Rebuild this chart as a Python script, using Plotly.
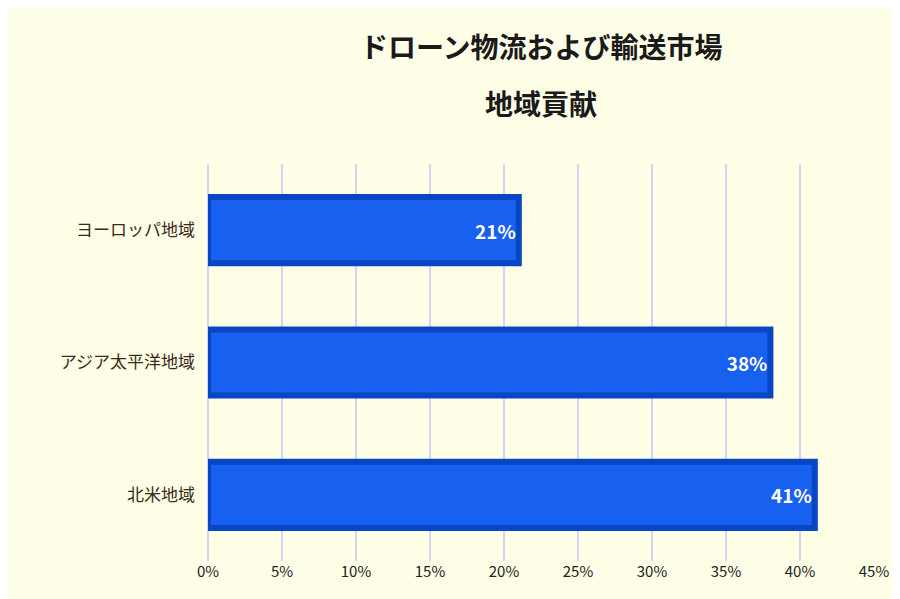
import plotly.graph_objects as go

categories = ["北米地域", "アジア太平洋地域", "ヨーロッパ地域"]
values = [41, 38, 21]
labels = ["<b>41%</b>", "<b>38%</b>", "<b>21%</b>"]
tick_vals = [0, 5, 10, 15, 20, 25, 30, 35, 40, 45]
tick_text = ["0%", "5%", "10%", "15%", "20%", "25%", "30%", "35%", "40%", "45%"]
title_lines = ["ドローン物流および輸送市場", "地域貢献"]

fig = go.Figure(go.Bar(
    y=categories, x=values, orientation="h",
    text=labels, textposition="inside", insidetextanchor="end",
    textfont=dict(color="white", size=19, family="Noto Sans CJK JP"),
    marker=dict(color="#1760F0", line=dict(color="#0846C4", width=6)),
    width=0.5,
))
for line, yy in zip(title_lines, [1.297, 1.154]):
    fig.add_annotation(text="<b>" + line + "</b>", xref="paper", yref="paper",
                       x=0.5, y=yy, xanchor="center", yanchor="middle", showarrow=False,
                       font=dict(size=28, color="#1a1a1a", family="Noto Sans CJK JP"))
fig.update_layout(
    width=900, height=599,
    paper_bgcolor="#FFFEE6", plot_bgcolor="#FFFEE6",
    margin=dict(l=200, r=34, t=156, b=46),
    showlegend=False,
    font=dict(family="Noto Sans CJK JP", color="#3a2a1a"),
)
fig.update_xaxes(range=[0, 45], tickvals=tick_vals, ticktext=tick_text,
                 showgrid=True, gridcolor="#D4D4F4", gridwidth=1.5,
                 zeroline=True, zerolinecolor="#D4D4F4", zerolinewidth=1.5,
                 tickfont=dict(size=15, color="#222"), ticks="", showline=False)
fig.update_yaxes(showgrid=False, tickfont=dict(size=17, color="#3a2a1a"), ticks="", ticklabelstandoff=12)
fig.write_html("out.html")
